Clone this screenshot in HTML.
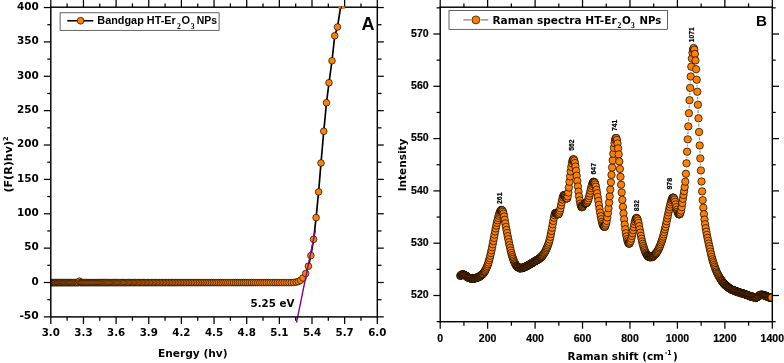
<!DOCTYPE html>
<html><head><meta charset="utf-8"><title>Bandgap and Raman spectra HT-Er2O3 NPs</title>
<style>html,body{margin:0;padding:0;background:#fff}svg{display:block}</style></head>
<body>
<svg width="784" height="363" viewBox="0 0 784 363">
<rect width="784" height="363" fill="#fff"/>
<defs>
<clipPath id="ca"><rect x="50.8" y="7.2" width="326.5" height="309.7"/></clipPath>
<clipPath id="cb"><rect x="440.2" y="7.2" width="332.09999999999997" height="314.5"/></clipPath>
</defs>
<g clip-path="url(#ca)">
<polyline fill="none" stroke="#000" stroke-width="1.7" points="51.06,282.60 51.86,282.60 52.65,282.60 53.45,282.60 54.26,282.60 55.07,282.60 55.88,282.60 56.70,282.60 57.52,282.60 58.34,282.60 59.17,282.60 60.00,282.60 60.84,282.60 61.68,282.60 62.53,282.60 63.38,282.60 64.23,282.60 65.09,282.60 65.95,282.60 66.82,282.60 67.69,282.60 68.57,282.60 69.45,282.60 70.33,282.60 71.22,282.60 72.12,282.60 73.02,282.60 73.92,282.60 74.83,282.60 75.74,282.60 76.66,282.60 77.58,282.60 78.51,282.60 79.44,281.20 80.38,282.60 81.32,282.60 82.27,282.60 83.22,282.60 84.18,282.60 85.14,282.60 86.11,282.60 87.08,282.60 88.06,282.60 89.04,282.60 90.03,282.60 91.02,282.60 92.02,282.60 93.02,282.60 94.04,282.60 95.05,282.60 96.07,282.60 97.10,282.60 98.13,282.60 99.17,282.60 100.21,282.60 101.26,282.60 102.32,282.60 103.38,282.60 104.45,282.60 105.52,282.60 106.60,282.60 107.69,282.60 108.78,282.60 109.88,282.60 110.99,282.60 112.10,282.60 113.21,282.60 114.34,282.60 115.47,282.60 116.61,282.60 117.75,282.60 118.90,282.60 120.06,282.60 121.22,282.60 122.39,282.60 123.57,282.60 124.75,282.60 125.95,282.60 127.15,282.60 128.35,282.60 129.57,282.60 130.79,282.60 132.01,282.60 133.25,282.60 134.49,282.60 135.74,282.60 137.00,282.60 138.27,282.60 139.54,282.60 140.82,282.60 142.11,282.60 143.41,282.60 144.72,282.60 146.03,282.60 147.35,282.60 148.68,282.60 150.02,282.60 151.37,282.60 152.72,282.60 154.09,282.60 155.46,282.60 156.84,282.60 158.23,282.60 159.63,282.60 161.04,282.60 162.46,282.60 163.89,282.60 165.32,282.60 166.77,282.60 168.23,282.60 169.69,282.60 171.17,282.60 172.65,282.60 174.14,282.60 175.65,282.60 177.16,282.60 178.69,282.60 180.22,282.60 181.77,282.60 183.32,282.60 184.89,282.60 186.47,282.60 188.06,282.60 189.66,282.60 191.27,282.60 192.89,282.60 194.52,282.60 196.16,282.60 197.82,282.60 199.49,282.60 201.17,282.60 202.86,282.60 204.56,282.60 206.28,282.60 208.00,282.60 209.74,282.60 211.50,282.60 213.26,282.60 215.04,282.60 216.83,282.60 218.63,282.60 220.45,282.60 222.28,282.60 224.13,282.60 225.99,282.60 227.86,282.60 229.74,282.60 231.64,282.60 233.56,282.60 235.49,282.60 237.43,282.60 239.39,282.60 241.36,282.60 243.35,282.60 245.36,282.60 247.37,282.60 249.41,282.60 251.46,282.60 253.53,282.60 255.61,282.60 257.71,282.60 259.83,282.60 261.96,282.60 264.11,282.60 266.28,282.60 268.47,282.60 270.67,282.60 272.89,282.60 275.13,282.60 277.39,282.60 279.66,282.60 281.96,282.60 284.27,282.60 286.61,282.60 288.96,282.60 291.33,282.60 293.72,282.40 296.14,282.10 298.30,281.50 300.50,280.30 303.00,278.00 305.70,273.50 308.40,266.20 310.90,255.60 313.60,239.30 316.10,217.60 318.60,191.90 321.00,163.00 323.75,131.25 326.50,102.75 329.00,82.75 332.00,60.75 334.75,35.75 337.50,27.00 340.90,5.20"/>
<g fill="#FF8000" stroke="#000" stroke-width="0.65">
<circle cx="51.06" cy="282.60" r="3.35"/>
<circle cx="51.86" cy="282.60" r="3.35"/>
<circle cx="52.65" cy="282.60" r="3.35"/>
<circle cx="53.45" cy="282.60" r="3.35"/>
<circle cx="54.26" cy="282.60" r="3.35"/>
<circle cx="55.07" cy="282.60" r="3.35"/>
<circle cx="55.88" cy="282.60" r="3.35"/>
<circle cx="56.70" cy="282.60" r="3.35"/>
<circle cx="57.52" cy="282.60" r="3.35"/>
<circle cx="58.34" cy="282.60" r="3.35"/>
<circle cx="59.17" cy="282.60" r="3.35"/>
<circle cx="60.00" cy="282.60" r="3.35"/>
<circle cx="60.84" cy="282.60" r="3.35"/>
<circle cx="61.68" cy="282.60" r="3.35"/>
<circle cx="62.53" cy="282.60" r="3.35"/>
<circle cx="63.38" cy="282.60" r="3.35"/>
<circle cx="64.23" cy="282.60" r="3.35"/>
<circle cx="65.09" cy="282.60" r="3.35"/>
<circle cx="65.95" cy="282.60" r="3.35"/>
<circle cx="66.82" cy="282.60" r="3.35"/>
<circle cx="67.69" cy="282.60" r="3.35"/>
<circle cx="68.57" cy="282.60" r="3.35"/>
<circle cx="69.45" cy="282.60" r="3.35"/>
<circle cx="70.33" cy="282.60" r="3.35"/>
<circle cx="71.22" cy="282.60" r="3.35"/>
<circle cx="72.12" cy="282.60" r="3.35"/>
<circle cx="73.02" cy="282.60" r="3.35"/>
<circle cx="73.92" cy="282.60" r="3.35"/>
<circle cx="74.83" cy="282.60" r="3.35"/>
<circle cx="75.74" cy="282.60" r="3.35"/>
<circle cx="76.66" cy="282.60" r="3.35"/>
<circle cx="77.58" cy="282.60" r="3.35"/>
<circle cx="78.51" cy="282.60" r="3.35"/>
<circle cx="79.44" cy="281.20" r="3.35"/>
<circle cx="80.38" cy="282.60" r="3.35"/>
<circle cx="81.32" cy="282.60" r="3.35"/>
<circle cx="82.27" cy="282.60" r="3.35"/>
<circle cx="83.22" cy="282.60" r="3.35"/>
<circle cx="84.18" cy="282.60" r="3.35"/>
<circle cx="85.14" cy="282.60" r="3.35"/>
<circle cx="86.11" cy="282.60" r="3.35"/>
<circle cx="87.08" cy="282.60" r="3.35"/>
<circle cx="88.06" cy="282.60" r="3.35"/>
<circle cx="89.04" cy="282.60" r="3.35"/>
<circle cx="90.03" cy="282.60" r="3.35"/>
<circle cx="91.02" cy="282.60" r="3.35"/>
<circle cx="92.02" cy="282.60" r="3.35"/>
<circle cx="93.02" cy="282.60" r="3.35"/>
<circle cx="94.04" cy="282.60" r="3.35"/>
<circle cx="95.05" cy="282.60" r="3.35"/>
<circle cx="96.07" cy="282.60" r="3.35"/>
<circle cx="97.10" cy="282.60" r="3.35"/>
<circle cx="98.13" cy="282.60" r="3.35"/>
<circle cx="99.17" cy="282.60" r="3.35"/>
<circle cx="100.21" cy="282.60" r="3.35"/>
<circle cx="101.26" cy="282.60" r="3.35"/>
<circle cx="102.32" cy="282.60" r="3.35"/>
<circle cx="103.38" cy="282.60" r="3.35"/>
<circle cx="104.45" cy="282.60" r="3.35"/>
<circle cx="105.52" cy="282.60" r="3.35"/>
<circle cx="106.60" cy="282.60" r="3.35"/>
<circle cx="107.69" cy="282.60" r="3.35"/>
<circle cx="108.78" cy="282.60" r="3.35"/>
<circle cx="109.88" cy="282.60" r="3.35"/>
<circle cx="110.99" cy="282.60" r="3.35"/>
<circle cx="112.10" cy="282.60" r="3.35"/>
<circle cx="113.21" cy="282.60" r="3.35"/>
<circle cx="114.34" cy="282.60" r="3.35"/>
<circle cx="115.47" cy="282.60" r="3.35"/>
<circle cx="116.61" cy="282.60" r="3.35"/>
<circle cx="117.75" cy="282.60" r="3.35"/>
<circle cx="118.90" cy="282.60" r="3.35"/>
<circle cx="120.06" cy="282.60" r="3.35"/>
<circle cx="121.22" cy="282.60" r="3.35"/>
<circle cx="122.39" cy="282.60" r="3.35"/>
<circle cx="123.57" cy="282.60" r="3.35"/>
<circle cx="124.75" cy="282.60" r="3.35"/>
<circle cx="125.95" cy="282.60" r="3.35"/>
<circle cx="127.15" cy="282.60" r="3.35"/>
<circle cx="128.35" cy="282.60" r="3.35"/>
<circle cx="129.57" cy="282.60" r="3.35"/>
<circle cx="130.79" cy="282.60" r="3.35"/>
<circle cx="132.01" cy="282.60" r="3.35"/>
<circle cx="133.25" cy="282.60" r="3.35"/>
<circle cx="134.49" cy="282.60" r="3.35"/>
<circle cx="135.74" cy="282.60" r="3.35"/>
<circle cx="137.00" cy="282.60" r="3.35"/>
<circle cx="138.27" cy="282.60" r="3.35"/>
<circle cx="139.54" cy="282.60" r="3.35"/>
<circle cx="140.82" cy="282.60" r="3.35"/>
<circle cx="142.11" cy="282.60" r="3.35"/>
<circle cx="143.41" cy="282.60" r="3.35"/>
<circle cx="144.72" cy="282.60" r="3.35"/>
<circle cx="146.03" cy="282.60" r="3.35"/>
<circle cx="147.35" cy="282.60" r="3.35"/>
<circle cx="148.68" cy="282.60" r="3.35"/>
<circle cx="150.02" cy="282.60" r="3.35"/>
<circle cx="151.37" cy="282.60" r="3.35"/>
<circle cx="152.72" cy="282.60" r="3.35"/>
<circle cx="154.09" cy="282.60" r="3.35"/>
<circle cx="155.46" cy="282.60" r="3.35"/>
<circle cx="156.84" cy="282.60" r="3.35"/>
<circle cx="158.23" cy="282.60" r="3.35"/>
<circle cx="159.63" cy="282.60" r="3.35"/>
<circle cx="161.04" cy="282.60" r="3.35"/>
<circle cx="162.46" cy="282.60" r="3.35"/>
<circle cx="163.89" cy="282.60" r="3.35"/>
<circle cx="165.32" cy="282.60" r="3.35"/>
<circle cx="166.77" cy="282.60" r="3.35"/>
<circle cx="168.23" cy="282.60" r="3.35"/>
<circle cx="169.69" cy="282.60" r="3.35"/>
<circle cx="171.17" cy="282.60" r="3.35"/>
<circle cx="172.65" cy="282.60" r="3.35"/>
<circle cx="174.14" cy="282.60" r="3.35"/>
<circle cx="175.65" cy="282.60" r="3.35"/>
<circle cx="177.16" cy="282.60" r="3.35"/>
<circle cx="178.69" cy="282.60" r="3.35"/>
<circle cx="180.22" cy="282.60" r="3.35"/>
<circle cx="181.77" cy="282.60" r="3.35"/>
<circle cx="183.32" cy="282.60" r="3.35"/>
<circle cx="184.89" cy="282.60" r="3.35"/>
<circle cx="186.47" cy="282.60" r="3.35"/>
<circle cx="188.06" cy="282.60" r="3.35"/>
<circle cx="189.66" cy="282.60" r="3.35"/>
<circle cx="191.27" cy="282.60" r="3.35"/>
<circle cx="192.89" cy="282.60" r="3.35"/>
<circle cx="194.52" cy="282.60" r="3.35"/>
<circle cx="196.16" cy="282.60" r="3.35"/>
<circle cx="197.82" cy="282.60" r="3.35"/>
<circle cx="199.49" cy="282.60" r="3.35"/>
<circle cx="201.17" cy="282.60" r="3.35"/>
<circle cx="202.86" cy="282.60" r="3.35"/>
<circle cx="204.56" cy="282.60" r="3.35"/>
<circle cx="206.28" cy="282.60" r="3.35"/>
<circle cx="208.00" cy="282.60" r="3.35"/>
<circle cx="209.74" cy="282.60" r="3.35"/>
<circle cx="211.50" cy="282.60" r="3.35"/>
<circle cx="213.26" cy="282.60" r="3.35"/>
<circle cx="215.04" cy="282.60" r="3.35"/>
<circle cx="216.83" cy="282.60" r="3.35"/>
<circle cx="218.63" cy="282.60" r="3.35"/>
<circle cx="220.45" cy="282.60" r="3.35"/>
<circle cx="222.28" cy="282.60" r="3.35"/>
<circle cx="224.13" cy="282.60" r="3.35"/>
<circle cx="225.99" cy="282.60" r="3.35"/>
<circle cx="227.86" cy="282.60" r="3.35"/>
<circle cx="229.74" cy="282.60" r="3.35"/>
<circle cx="231.64" cy="282.60" r="3.35"/>
<circle cx="233.56" cy="282.60" r="3.35"/>
<circle cx="235.49" cy="282.60" r="3.35"/>
<circle cx="237.43" cy="282.60" r="3.35"/>
<circle cx="239.39" cy="282.60" r="3.35"/>
<circle cx="241.36" cy="282.60" r="3.35"/>
<circle cx="243.35" cy="282.60" r="3.35"/>
<circle cx="245.36" cy="282.60" r="3.35"/>
<circle cx="247.37" cy="282.60" r="3.35"/>
<circle cx="249.41" cy="282.60" r="3.35"/>
<circle cx="251.46" cy="282.60" r="3.35"/>
<circle cx="253.53" cy="282.60" r="3.35"/>
<circle cx="255.61" cy="282.60" r="3.35"/>
<circle cx="257.71" cy="282.60" r="3.35"/>
<circle cx="259.83" cy="282.60" r="3.35"/>
<circle cx="261.96" cy="282.60" r="3.35"/>
<circle cx="264.11" cy="282.60" r="3.35"/>
<circle cx="266.28" cy="282.60" r="3.35"/>
<circle cx="268.47" cy="282.60" r="3.35"/>
<circle cx="270.67" cy="282.60" r="3.35"/>
<circle cx="272.89" cy="282.60" r="3.35"/>
<circle cx="275.13" cy="282.60" r="3.35"/>
<circle cx="277.39" cy="282.60" r="3.35"/>
<circle cx="279.66" cy="282.60" r="3.35"/>
<circle cx="281.96" cy="282.60" r="3.35"/>
<circle cx="284.27" cy="282.60" r="3.35"/>
<circle cx="286.61" cy="282.60" r="3.35"/>
<circle cx="288.96" cy="282.60" r="3.35"/>
<circle cx="291.33" cy="282.60" r="3.35"/>
<circle cx="293.72" cy="282.40" r="3.35"/>
<circle cx="296.14" cy="282.10" r="3.35"/>
<circle cx="298.30" cy="281.50" r="3.35"/>
<circle cx="300.50" cy="280.30" r="3.35"/>
<circle cx="303.00" cy="278.00" r="3.35"/>
<circle cx="305.70" cy="273.50" r="3.35"/>
<circle cx="308.40" cy="266.20" r="3.35"/>
<circle cx="310.90" cy="255.60" r="3.35"/>
<circle cx="313.60" cy="239.30" r="3.35"/>
<circle cx="316.10" cy="217.60" r="3.35"/>
<circle cx="318.60" cy="191.90" r="3.35"/>
<circle cx="321.00" cy="163.00" r="3.35"/>
<circle cx="323.75" cy="131.25" r="3.35"/>
<circle cx="326.50" cy="102.75" r="3.35"/>
<circle cx="329.00" cy="82.75" r="3.35"/>
<circle cx="332.00" cy="60.75" r="3.35"/>
<circle cx="334.75" cy="35.75" r="3.35"/>
<circle cx="337.50" cy="27.00" r="3.35"/>
<circle cx="340.90" cy="5.20" r="3.35"/>
</g>
</g>
<line x1="315.50" y1="229.60" x2="296.50" y2="322.60" stroke="#8B008B" stroke-width="1.4" />
<text x="250.50" y="306.70" font-size="10.4" style="font-family:'DejaVu Sans','Liberation Sans',sans-serif;font-weight:bold" text-anchor="start" textLength="43.90" lengthAdjust="spacingAndGlyphs" >5.25 eV</text>
<rect x="50.8" y="7.2" width="326.5" height="309.7" fill="none" stroke="#000" stroke-width="1.45"/>
<line x1="50.80" y1="316.90" x2="50.80" y2="324.00" stroke="#000" stroke-width="1.25" />
<line x1="50.80" y1="7.20" x2="50.80" y2="-0.30" stroke="#000" stroke-width="1.25" />
<text x="50.80" y="336.40" font-size="10.3" style="font-family:'DejaVu Sans','Liberation Sans',sans-serif;font-weight:bold" text-anchor="middle" textLength="18.20" lengthAdjust="spacingAndGlyphs" >3.0</text>
<line x1="67.12" y1="316.90" x2="67.12" y2="320.70" stroke="#000" stroke-width="1.25" />
<line x1="67.12" y1="7.20" x2="67.12" y2="3.40" stroke="#000" stroke-width="1.25" />
<line x1="83.45" y1="316.90" x2="83.45" y2="324.00" stroke="#000" stroke-width="1.25" />
<line x1="83.45" y1="7.20" x2="83.45" y2="-0.30" stroke="#000" stroke-width="1.25" />
<text x="83.45" y="336.40" font-size="10.3" style="font-family:'DejaVu Sans','Liberation Sans',sans-serif;font-weight:bold" text-anchor="middle" textLength="18.20" lengthAdjust="spacingAndGlyphs" >3.3</text>
<line x1="99.78" y1="316.90" x2="99.78" y2="320.70" stroke="#000" stroke-width="1.25" />
<line x1="99.78" y1="7.20" x2="99.78" y2="3.40" stroke="#000" stroke-width="1.25" />
<line x1="116.10" y1="316.90" x2="116.10" y2="324.00" stroke="#000" stroke-width="1.25" />
<line x1="116.10" y1="7.20" x2="116.10" y2="-0.30" stroke="#000" stroke-width="1.25" />
<text x="116.10" y="336.40" font-size="10.3" style="font-family:'DejaVu Sans','Liberation Sans',sans-serif;font-weight:bold" text-anchor="middle" textLength="18.20" lengthAdjust="spacingAndGlyphs" >3.6</text>
<line x1="132.43" y1="316.90" x2="132.43" y2="320.70" stroke="#000" stroke-width="1.25" />
<line x1="132.43" y1="7.20" x2="132.43" y2="3.40" stroke="#000" stroke-width="1.25" />
<line x1="148.75" y1="316.90" x2="148.75" y2="324.00" stroke="#000" stroke-width="1.25" />
<line x1="148.75" y1="7.20" x2="148.75" y2="-0.30" stroke="#000" stroke-width="1.25" />
<text x="148.75" y="336.40" font-size="10.3" style="font-family:'DejaVu Sans','Liberation Sans',sans-serif;font-weight:bold" text-anchor="middle" textLength="18.20" lengthAdjust="spacingAndGlyphs" >3.9</text>
<line x1="165.07" y1="316.90" x2="165.07" y2="320.70" stroke="#000" stroke-width="1.25" />
<line x1="165.07" y1="7.20" x2="165.07" y2="3.40" stroke="#000" stroke-width="1.25" />
<line x1="181.40" y1="316.90" x2="181.40" y2="324.00" stroke="#000" stroke-width="1.25" />
<line x1="181.40" y1="7.20" x2="181.40" y2="-0.30" stroke="#000" stroke-width="1.25" />
<text x="181.40" y="336.40" font-size="10.3" style="font-family:'DejaVu Sans','Liberation Sans',sans-serif;font-weight:bold" text-anchor="middle" textLength="18.20" lengthAdjust="spacingAndGlyphs" >4.2</text>
<line x1="197.72" y1="316.90" x2="197.72" y2="320.70" stroke="#000" stroke-width="1.25" />
<line x1="197.72" y1="7.20" x2="197.72" y2="3.40" stroke="#000" stroke-width="1.25" />
<line x1="214.05" y1="316.90" x2="214.05" y2="324.00" stroke="#000" stroke-width="1.25" />
<line x1="214.05" y1="7.20" x2="214.05" y2="-0.30" stroke="#000" stroke-width="1.25" />
<text x="214.05" y="336.40" font-size="10.3" style="font-family:'DejaVu Sans','Liberation Sans',sans-serif;font-weight:bold" text-anchor="middle" textLength="18.20" lengthAdjust="spacingAndGlyphs" >4.5</text>
<line x1="230.38" y1="316.90" x2="230.38" y2="320.70" stroke="#000" stroke-width="1.25" />
<line x1="230.38" y1="7.20" x2="230.38" y2="3.40" stroke="#000" stroke-width="1.25" />
<line x1="246.70" y1="316.90" x2="246.70" y2="324.00" stroke="#000" stroke-width="1.25" />
<line x1="246.70" y1="7.20" x2="246.70" y2="-0.30" stroke="#000" stroke-width="1.25" />
<text x="246.70" y="336.40" font-size="10.3" style="font-family:'DejaVu Sans','Liberation Sans',sans-serif;font-weight:bold" text-anchor="middle" textLength="18.20" lengthAdjust="spacingAndGlyphs" >4.8</text>
<line x1="263.03" y1="316.90" x2="263.03" y2="320.70" stroke="#000" stroke-width="1.25" />
<line x1="263.03" y1="7.20" x2="263.03" y2="3.40" stroke="#000" stroke-width="1.25" />
<line x1="279.35" y1="316.90" x2="279.35" y2="324.00" stroke="#000" stroke-width="1.25" />
<line x1="279.35" y1="7.20" x2="279.35" y2="-0.30" stroke="#000" stroke-width="1.25" />
<text x="279.35" y="336.40" font-size="10.3" style="font-family:'DejaVu Sans','Liberation Sans',sans-serif;font-weight:bold" text-anchor="middle" textLength="18.20" lengthAdjust="spacingAndGlyphs" >5.1</text>
<line x1="295.68" y1="316.90" x2="295.68" y2="320.70" stroke="#000" stroke-width="1.25" />
<line x1="295.68" y1="7.20" x2="295.68" y2="3.40" stroke="#000" stroke-width="1.25" />
<line x1="312.00" y1="316.90" x2="312.00" y2="324.00" stroke="#000" stroke-width="1.25" />
<line x1="312.00" y1="7.20" x2="312.00" y2="-0.30" stroke="#000" stroke-width="1.25" />
<text x="312.00" y="336.40" font-size="10.3" style="font-family:'DejaVu Sans','Liberation Sans',sans-serif;font-weight:bold" text-anchor="middle" textLength="18.20" lengthAdjust="spacingAndGlyphs" >5.4</text>
<line x1="328.32" y1="316.90" x2="328.32" y2="320.70" stroke="#000" stroke-width="1.25" />
<line x1="328.32" y1="7.20" x2="328.32" y2="3.40" stroke="#000" stroke-width="1.25" />
<line x1="344.65" y1="316.90" x2="344.65" y2="324.00" stroke="#000" stroke-width="1.25" />
<line x1="344.65" y1="7.20" x2="344.65" y2="-0.30" stroke="#000" stroke-width="1.25" />
<text x="344.65" y="336.40" font-size="10.3" style="font-family:'DejaVu Sans','Liberation Sans',sans-serif;font-weight:bold" text-anchor="middle" textLength="18.20" lengthAdjust="spacingAndGlyphs" >5.7</text>
<line x1="360.97" y1="316.90" x2="360.97" y2="320.70" stroke="#000" stroke-width="1.25" />
<line x1="360.97" y1="7.20" x2="360.97" y2="3.40" stroke="#000" stroke-width="1.25" />
<line x1="377.30" y1="316.90" x2="377.30" y2="324.00" stroke="#000" stroke-width="1.25" />
<line x1="377.30" y1="7.20" x2="377.30" y2="-0.30" stroke="#000" stroke-width="1.25" />
<text x="377.30" y="336.40" font-size="10.3" style="font-family:'DejaVu Sans','Liberation Sans',sans-serif;font-weight:bold" text-anchor="middle" textLength="18.20" lengthAdjust="spacingAndGlyphs" >6.0</text>
<line x1="50.80" y1="316.87" x2="43.80" y2="316.87" stroke="#000" stroke-width="1.25" />
<line x1="377.30" y1="316.87" x2="383.80" y2="316.87" stroke="#000" stroke-width="1.25" />
<text x="38.80" y="319.17" font-size="10.3" style="font-family:'DejaVu Sans','Liberation Sans',sans-serif;font-weight:bold" text-anchor="end" textLength="19.40" lengthAdjust="spacingAndGlyphs" >-50</text>
<line x1="50.80" y1="299.69" x2="47.30" y2="299.69" stroke="#000" stroke-width="1.25" />
<line x1="377.30" y1="299.69" x2="381.50" y2="299.69" stroke="#000" stroke-width="1.25" />
<line x1="50.80" y1="282.50" x2="43.80" y2="282.50" stroke="#000" stroke-width="1.25" />
<line x1="377.30" y1="282.50" x2="383.80" y2="282.50" stroke="#000" stroke-width="1.25" />
<text x="38.80" y="284.80" font-size="10.3" style="font-family:'DejaVu Sans','Liberation Sans',sans-serif;font-weight:bold" text-anchor="end" textLength="7.20" lengthAdjust="spacingAndGlyphs" >0</text>
<line x1="50.80" y1="265.31" x2="47.30" y2="265.31" stroke="#000" stroke-width="1.25" />
<line x1="377.30" y1="265.31" x2="381.50" y2="265.31" stroke="#000" stroke-width="1.25" />
<line x1="50.80" y1="248.13" x2="43.80" y2="248.13" stroke="#000" stroke-width="1.25" />
<line x1="377.30" y1="248.13" x2="383.80" y2="248.13" stroke="#000" stroke-width="1.25" />
<text x="38.80" y="250.43" font-size="10.3" style="font-family:'DejaVu Sans','Liberation Sans',sans-serif;font-weight:bold" text-anchor="end" textLength="14.50" lengthAdjust="spacingAndGlyphs" >50</text>
<line x1="50.80" y1="230.94" x2="47.30" y2="230.94" stroke="#000" stroke-width="1.25" />
<line x1="377.30" y1="230.94" x2="381.50" y2="230.94" stroke="#000" stroke-width="1.25" />
<line x1="50.80" y1="213.76" x2="43.80" y2="213.76" stroke="#000" stroke-width="1.25" />
<line x1="377.30" y1="213.76" x2="383.80" y2="213.76" stroke="#000" stroke-width="1.25" />
<text x="38.80" y="216.06" font-size="10.3" style="font-family:'DejaVu Sans','Liberation Sans',sans-serif;font-weight:bold" text-anchor="end" textLength="21.80" lengthAdjust="spacingAndGlyphs" >100</text>
<line x1="50.80" y1="196.57" x2="47.30" y2="196.57" stroke="#000" stroke-width="1.25" />
<line x1="377.30" y1="196.57" x2="381.50" y2="196.57" stroke="#000" stroke-width="1.25" />
<line x1="50.80" y1="179.39" x2="43.80" y2="179.39" stroke="#000" stroke-width="1.25" />
<line x1="377.30" y1="179.39" x2="383.80" y2="179.39" stroke="#000" stroke-width="1.25" />
<text x="38.80" y="181.69" font-size="10.3" style="font-family:'DejaVu Sans','Liberation Sans',sans-serif;font-weight:bold" text-anchor="end" textLength="21.80" lengthAdjust="spacingAndGlyphs" >150</text>
<line x1="50.80" y1="162.21" x2="47.30" y2="162.21" stroke="#000" stroke-width="1.25" />
<line x1="377.30" y1="162.21" x2="381.50" y2="162.21" stroke="#000" stroke-width="1.25" />
<line x1="50.80" y1="145.02" x2="43.80" y2="145.02" stroke="#000" stroke-width="1.25" />
<line x1="377.30" y1="145.02" x2="383.80" y2="145.02" stroke="#000" stroke-width="1.25" />
<text x="38.80" y="147.32" font-size="10.3" style="font-family:'DejaVu Sans','Liberation Sans',sans-serif;font-weight:bold" text-anchor="end" textLength="21.80" lengthAdjust="spacingAndGlyphs" >200</text>
<line x1="50.80" y1="127.84" x2="47.30" y2="127.84" stroke="#000" stroke-width="1.25" />
<line x1="377.30" y1="127.84" x2="381.50" y2="127.84" stroke="#000" stroke-width="1.25" />
<line x1="50.80" y1="110.65" x2="43.80" y2="110.65" stroke="#000" stroke-width="1.25" />
<line x1="377.30" y1="110.65" x2="383.80" y2="110.65" stroke="#000" stroke-width="1.25" />
<text x="38.80" y="112.95" font-size="10.3" style="font-family:'DejaVu Sans','Liberation Sans',sans-serif;font-weight:bold" text-anchor="end" textLength="21.80" lengthAdjust="spacingAndGlyphs" >250</text>
<line x1="50.80" y1="93.47" x2="47.30" y2="93.47" stroke="#000" stroke-width="1.25" />
<line x1="377.30" y1="93.47" x2="381.50" y2="93.47" stroke="#000" stroke-width="1.25" />
<line x1="50.80" y1="76.28" x2="43.80" y2="76.28" stroke="#000" stroke-width="1.25" />
<line x1="377.30" y1="76.28" x2="383.80" y2="76.28" stroke="#000" stroke-width="1.25" />
<text x="38.80" y="78.58" font-size="10.3" style="font-family:'DejaVu Sans','Liberation Sans',sans-serif;font-weight:bold" text-anchor="end" textLength="21.80" lengthAdjust="spacingAndGlyphs" >300</text>
<line x1="50.80" y1="59.10" x2="47.30" y2="59.10" stroke="#000" stroke-width="1.25" />
<line x1="377.30" y1="59.10" x2="381.50" y2="59.10" stroke="#000" stroke-width="1.25" />
<line x1="50.80" y1="41.91" x2="43.80" y2="41.91" stroke="#000" stroke-width="1.25" />
<line x1="377.30" y1="41.91" x2="383.80" y2="41.91" stroke="#000" stroke-width="1.25" />
<text x="38.80" y="44.21" font-size="10.3" style="font-family:'DejaVu Sans','Liberation Sans',sans-serif;font-weight:bold" text-anchor="end" textLength="21.80" lengthAdjust="spacingAndGlyphs" >350</text>
<line x1="50.80" y1="24.73" x2="47.30" y2="24.73" stroke="#000" stroke-width="1.25" />
<line x1="377.30" y1="24.73" x2="381.50" y2="24.73" stroke="#000" stroke-width="1.25" />
<line x1="50.80" y1="7.54" x2="43.80" y2="7.54" stroke="#000" stroke-width="1.25" />
<line x1="377.30" y1="7.54" x2="383.80" y2="7.54" stroke="#000" stroke-width="1.25" />
<text x="38.80" y="9.84" font-size="10.3" style="font-family:'DejaVu Sans','Liberation Sans',sans-serif;font-weight:bold" text-anchor="end" textLength="21.80" lengthAdjust="spacingAndGlyphs" >400</text>
<clipPath id="cs"><rect x="330" y="6.5" width="20" height="2.2"/></clipPath>
<g clip-path="url(#cs)"><circle cx="341.7" cy="6.0" r="3.6" fill="#FF8000" stroke="#7a3d00" stroke-width="0.5"/><line x1="340.9" y1="9.5" x2="341.6" y2="5.5" stroke="#000" stroke-width="1.0"/></g>
<text x="192.80" y="357.00" font-size="10.4" style="font-family:'DejaVu Sans','Liberation Sans',sans-serif;font-weight:bold" text-anchor="middle" textLength="69.60" lengthAdjust="spacingAndGlyphs" >Energy (hv)</text>
<text transform="translate(11.7,192.6) rotate(-90)" font-size="10.4" style="font-family:'DejaVu Sans','Liberation Sans',sans-serif;font-weight:bold" text-anchor="start"><tspan textLength="51.6" lengthAdjust="spacingAndGlyphs">(F(R)hv)</tspan><tspan font-size="6.5" dy="-4.2">2</tspan></text>
<rect x="60.1" y="12.8" width="159.0" height="17.5" fill="#fff" stroke="#222" stroke-width="0.7"/>
<line x1="67.30" y1="20.75" x2="93.30" y2="20.75" stroke="#000" stroke-width="1.6" />
<circle cx="80.6" cy="20.75" r="3.4" fill="#FF8000" stroke="#000" stroke-width="0.65"/>
<text y="24.2" font-size="11" style="font-family:'Liberation Sans',sans-serif;font-weight:bold"><tspan x="97.3" textLength="78.5" lengthAdjust="spacingAndGlyphs">Bandgap HT-Er</tspan><tspan x="177.0" y="28.8" style="font-family:'Liberation Serif',serif;font-weight:bold" font-size="7.6">2</tspan><tspan x="181.4" y="24.2">O</tspan><tspan x="190.8" y="28.8" style="font-family:'Liberation Serif',serif;font-weight:bold" font-size="7.6">3</tspan><tspan x="196.7" y="24.2" textLength="20.3" lengthAdjust="spacingAndGlyphs">NPs</tspan></text>
<text x="368.10" y="29.80" font-size="18" style="font-family:'Liberation Sans',sans-serif;font-weight:bold" text-anchor="middle" >A</text>
<g clip-path="url(#cb)">
<path fill="none" stroke="#333" stroke-width="0.6" d="M686.77,158.07L686.83,156.97M687.35,146.48L687.45,144.58M687.94,134.09L688.06,131.63M688.54,121.14L688.66,118.47M689.14,107.98L689.26,105.44M689.75,94.95L689.85,93.10M690.38,82.62L690.42,81.77M696.96,84.97L697.04,86.47M697.54,96.95L697.66,99.48M698.13,109.97L698.27,113.07M698.73,123.56L698.87,126.77M699.33,137.26L699.47,140.22M699.94,150.71L700.06,153.12M700.56,163.61L700.64,165.19M701.18,175.68L701.22,176.25"/>
<g fill="#FF8000" stroke="#000" stroke-width="0.7">
<circle cx="460.30" cy="275.89" r="3.7"/>
<circle cx="460.60" cy="275.61" r="3.7"/>
<circle cx="460.90" cy="275.27" r="3.7"/>
<circle cx="461.20" cy="275.08" r="3.7"/>
<circle cx="461.50" cy="274.88" r="3.7"/>
<circle cx="461.80" cy="274.50" r="3.7"/>
<circle cx="462.10" cy="274.32" r="3.7"/>
<circle cx="462.40" cy="274.53" r="3.7"/>
<circle cx="462.70" cy="274.49" r="3.7"/>
<circle cx="463.00" cy="274.30" r="3.7"/>
<circle cx="463.30" cy="274.52" r="3.7"/>
<circle cx="463.60" cy="274.47" r="3.7"/>
<circle cx="463.90" cy="274.72" r="3.7"/>
<circle cx="464.20" cy="274.83" r="3.7"/>
<circle cx="464.50" cy="274.90" r="3.7"/>
<circle cx="464.80" cy="275.38" r="3.7"/>
<circle cx="465.10" cy="275.33" r="3.7"/>
<circle cx="465.40" cy="275.55" r="3.7"/>
<circle cx="465.70" cy="275.67" r="3.7"/>
<circle cx="466.00" cy="275.71" r="3.7"/>
<circle cx="466.30" cy="275.99" r="3.7"/>
<circle cx="466.60" cy="276.42" r="3.7"/>
<circle cx="466.90" cy="276.70" r="3.7"/>
<circle cx="467.20" cy="277.00" r="3.7"/>
<circle cx="467.50" cy="277.12" r="3.7"/>
<circle cx="467.80" cy="277.49" r="3.7"/>
<circle cx="468.10" cy="277.62" r="3.7"/>
<circle cx="468.40" cy="277.63" r="3.7"/>
<circle cx="468.70" cy="277.73" r="3.7"/>
<circle cx="469.00" cy="277.74" r="3.7"/>
<circle cx="469.30" cy="277.94" r="3.7"/>
<circle cx="469.60" cy="278.05" r="3.7"/>
<circle cx="469.90" cy="278.13" r="3.7"/>
<circle cx="470.20" cy="278.17" r="3.7"/>
<circle cx="470.50" cy="278.10" r="3.7"/>
<circle cx="470.80" cy="278.58" r="3.7"/>
<circle cx="471.10" cy="278.68" r="3.7"/>
<circle cx="471.40" cy="278.75" r="3.7"/>
<circle cx="471.70" cy="278.32" r="3.7"/>
<circle cx="472.00" cy="278.22" r="3.7"/>
<circle cx="472.30" cy="278.30" r="3.7"/>
<circle cx="472.60" cy="278.33" r="3.7"/>
<circle cx="472.90" cy="278.49" r="3.7"/>
<circle cx="473.20" cy="278.62" r="3.7"/>
<circle cx="473.50" cy="278.77" r="3.7"/>
<circle cx="473.80" cy="278.58" r="3.7"/>
<circle cx="474.10" cy="278.44" r="3.7"/>
<circle cx="474.40" cy="278.33" r="3.7"/>
<circle cx="474.70" cy="278.10" r="3.7"/>
<circle cx="475.00" cy="278.13" r="3.7"/>
<circle cx="475.30" cy="278.04" r="3.7"/>
<circle cx="475.60" cy="278.11" r="3.7"/>
<circle cx="475.90" cy="278.13" r="3.7"/>
<circle cx="476.20" cy="278.14" r="3.7"/>
<circle cx="476.50" cy="277.83" r="3.7"/>
<circle cx="476.80" cy="277.66" r="3.7"/>
<circle cx="477.10" cy="277.54" r="3.7"/>
<circle cx="477.40" cy="277.35" r="3.7"/>
<circle cx="477.70" cy="277.42" r="3.7"/>
<circle cx="478.00" cy="277.18" r="3.7"/>
<circle cx="478.30" cy="277.33" r="3.7"/>
<circle cx="478.60" cy="277.15" r="3.7"/>
<circle cx="478.90" cy="277.23" r="3.7"/>
<circle cx="479.20" cy="276.71" r="3.7"/>
<circle cx="479.50" cy="276.45" r="3.7"/>
<circle cx="479.80" cy="276.09" r="3.7"/>
<circle cx="480.10" cy="276.18" r="3.7"/>
<circle cx="480.40" cy="276.04" r="3.7"/>
<circle cx="480.70" cy="275.75" r="3.7"/>
<circle cx="481.00" cy="275.45" r="3.7"/>
<circle cx="481.30" cy="275.10" r="3.7"/>
<circle cx="481.60" cy="274.88" r="3.7"/>
<circle cx="481.90" cy="274.77" r="3.7"/>
<circle cx="482.20" cy="274.37" r="3.7"/>
<circle cx="482.50" cy="274.18" r="3.7"/>
<circle cx="482.80" cy="273.78" r="3.7"/>
<circle cx="483.10" cy="273.75" r="3.7"/>
<circle cx="483.70" cy="272.89" r="3.7"/>
<circle cx="484.30" cy="271.93" r="3.7"/>
<circle cx="484.60" cy="271.45" r="3.7"/>
<circle cx="484.90" cy="271.19" r="3.7"/>
<circle cx="485.50" cy="270.05" r="3.7"/>
<circle cx="486.10" cy="268.77" r="3.7"/>
<circle cx="486.70" cy="267.52" r="3.7"/>
<circle cx="487.30" cy="266.01" r="3.7"/>
<circle cx="487.90" cy="264.31" r="3.7"/>
<circle cx="488.50" cy="262.46" r="3.7"/>
<circle cx="489.10" cy="260.26" r="3.7"/>
<circle cx="489.70" cy="258.08" r="3.7"/>
<circle cx="490.30" cy="255.67" r="3.7"/>
<circle cx="490.90" cy="253.03" r="3.7"/>
<circle cx="491.50" cy="250.24" r="3.7"/>
<circle cx="492.10" cy="247.30" r="3.7"/>
<circle cx="492.70" cy="244.26" r="3.7"/>
<circle cx="493.30" cy="241.03" r="3.7"/>
<circle cx="493.90" cy="237.92" r="3.7"/>
<circle cx="494.50" cy="234.63" r="3.7"/>
<circle cx="495.10" cy="231.49" r="3.7"/>
<circle cx="495.70" cy="228.37" r="3.7"/>
<circle cx="496.30" cy="225.57" r="3.7"/>
<circle cx="496.90" cy="222.84" r="3.7"/>
<circle cx="497.50" cy="220.21" r="3.7"/>
<circle cx="498.10" cy="217.91" r="3.7"/>
<circle cx="498.70" cy="215.63" r="3.7"/>
<circle cx="499.30" cy="213.76" r="3.7"/>
<circle cx="499.90" cy="212.15" r="3.7"/>
<circle cx="500.50" cy="210.82" r="3.7"/>
<circle cx="500.80" cy="210.73" r="3.7"/>
<circle cx="501.10" cy="210.20" r="3.7"/>
<circle cx="501.40" cy="209.99" r="3.7"/>
<circle cx="501.70" cy="210.31" r="3.7"/>
<circle cx="502.00" cy="210.39" r="3.7"/>
<circle cx="502.30" cy="210.44" r="3.7"/>
<circle cx="502.90" cy="211.81" r="3.7"/>
<circle cx="503.50" cy="213.68" r="3.7"/>
<circle cx="504.10" cy="216.50" r="3.7"/>
<circle cx="504.70" cy="219.81" r="3.7"/>
<circle cx="505.30" cy="223.43" r="3.7"/>
<circle cx="505.90" cy="226.87" r="3.7"/>
<circle cx="506.50" cy="229.96" r="3.7"/>
<circle cx="507.10" cy="233.02" r="3.7"/>
<circle cx="507.70" cy="236.22" r="3.7"/>
<circle cx="508.30" cy="239.19" r="3.7"/>
<circle cx="508.90" cy="242.25" r="3.7"/>
<circle cx="509.50" cy="245.16" r="3.7"/>
<circle cx="510.10" cy="247.86" r="3.7"/>
<circle cx="510.70" cy="250.50" r="3.7"/>
<circle cx="511.30" cy="252.97" r="3.7"/>
<circle cx="511.90" cy="255.15" r="3.7"/>
<circle cx="512.50" cy="257.14" r="3.7"/>
<circle cx="513.10" cy="258.86" r="3.7"/>
<circle cx="513.70" cy="260.60" r="3.7"/>
<circle cx="514.30" cy="262.06" r="3.7"/>
<circle cx="514.90" cy="263.32" r="3.7"/>
<circle cx="515.50" cy="264.36" r="3.7"/>
<circle cx="516.10" cy="265.38" r="3.7"/>
<circle cx="516.40" cy="265.80" r="3.7"/>
<circle cx="516.70" cy="266.04" r="3.7"/>
<circle cx="517.00" cy="266.38" r="3.7"/>
<circle cx="517.30" cy="266.70" r="3.7"/>
<circle cx="517.60" cy="266.95" r="3.7"/>
<circle cx="517.90" cy="267.28" r="3.7"/>
<circle cx="518.20" cy="267.44" r="3.7"/>
<circle cx="518.50" cy="267.43" r="3.7"/>
<circle cx="518.80" cy="267.46" r="3.7"/>
<circle cx="519.10" cy="267.76" r="3.7"/>
<circle cx="519.40" cy="268.13" r="3.7"/>
<circle cx="519.70" cy="268.37" r="3.7"/>
<circle cx="520.00" cy="268.48" r="3.7"/>
<circle cx="520.30" cy="268.24" r="3.7"/>
<circle cx="520.60" cy="267.89" r="3.7"/>
<circle cx="520.90" cy="267.80" r="3.7"/>
<circle cx="521.20" cy="267.81" r="3.7"/>
<circle cx="521.50" cy="268.01" r="3.7"/>
<circle cx="521.80" cy="268.04" r="3.7"/>
<circle cx="522.10" cy="268.03" r="3.7"/>
<circle cx="522.40" cy="268.13" r="3.7"/>
<circle cx="522.70" cy="267.99" r="3.7"/>
<circle cx="523.00" cy="267.97" r="3.7"/>
<circle cx="523.30" cy="267.62" r="3.7"/>
<circle cx="523.60" cy="267.54" r="3.7"/>
<circle cx="523.90" cy="267.29" r="3.7"/>
<circle cx="524.20" cy="267.08" r="3.7"/>
<circle cx="524.50" cy="267.02" r="3.7"/>
<circle cx="524.80" cy="266.86" r="3.7"/>
<circle cx="525.10" cy="266.96" r="3.7"/>
<circle cx="525.40" cy="266.82" r="3.7"/>
<circle cx="525.70" cy="266.62" r="3.7"/>
<circle cx="526.00" cy="266.46" r="3.7"/>
<circle cx="526.30" cy="266.20" r="3.7"/>
<circle cx="526.60" cy="265.93" r="3.7"/>
<circle cx="526.90" cy="265.93" r="3.7"/>
<circle cx="527.20" cy="265.75" r="3.7"/>
<circle cx="527.50" cy="265.57" r="3.7"/>
<circle cx="527.80" cy="265.52" r="3.7"/>
<circle cx="528.10" cy="265.39" r="3.7"/>
<circle cx="528.40" cy="265.24" r="3.7"/>
<circle cx="528.70" cy="264.85" r="3.7"/>
<circle cx="529.00" cy="264.64" r="3.7"/>
<circle cx="529.30" cy="264.66" r="3.7"/>
<circle cx="529.60" cy="264.58" r="3.7"/>
<circle cx="529.90" cy="264.36" r="3.7"/>
<circle cx="530.20" cy="264.02" r="3.7"/>
<circle cx="530.50" cy="263.96" r="3.7"/>
<circle cx="530.80" cy="263.64" r="3.7"/>
<circle cx="531.10" cy="263.42" r="3.7"/>
<circle cx="531.40" cy="263.38" r="3.7"/>
<circle cx="531.70" cy="263.37" r="3.7"/>
<circle cx="532.00" cy="263.23" r="3.7"/>
<circle cx="532.30" cy="262.73" r="3.7"/>
<circle cx="532.60" cy="263.03" r="3.7"/>
<circle cx="532.90" cy="262.53" r="3.7"/>
<circle cx="533.20" cy="262.30" r="3.7"/>
<circle cx="533.50" cy="262.01" r="3.7"/>
<circle cx="533.80" cy="261.82" r="3.7"/>
<circle cx="534.10" cy="261.52" r="3.7"/>
<circle cx="534.40" cy="261.60" r="3.7"/>
<circle cx="534.70" cy="261.44" r="3.7"/>
<circle cx="535.00" cy="261.10" r="3.7"/>
<circle cx="535.30" cy="261.09" r="3.7"/>
<circle cx="535.60" cy="260.97" r="3.7"/>
<circle cx="535.90" cy="260.68" r="3.7"/>
<circle cx="536.20" cy="260.37" r="3.7"/>
<circle cx="536.50" cy="260.36" r="3.7"/>
<circle cx="536.80" cy="260.31" r="3.7"/>
<circle cx="537.10" cy="259.87" r="3.7"/>
<circle cx="537.40" cy="259.85" r="3.7"/>
<circle cx="537.70" cy="259.48" r="3.7"/>
<circle cx="538.00" cy="259.38" r="3.7"/>
<circle cx="538.30" cy="259.16" r="3.7"/>
<circle cx="538.60" cy="259.00" r="3.7"/>
<circle cx="538.90" cy="259.03" r="3.7"/>
<circle cx="539.20" cy="258.94" r="3.7"/>
<circle cx="539.50" cy="258.46" r="3.7"/>
<circle cx="539.80" cy="258.18" r="3.7"/>
<circle cx="540.10" cy="257.83" r="3.7"/>
<circle cx="540.40" cy="257.67" r="3.7"/>
<circle cx="540.70" cy="257.48" r="3.7"/>
<circle cx="541.00" cy="257.22" r="3.7"/>
<circle cx="541.30" cy="256.83" r="3.7"/>
<circle cx="541.60" cy="256.33" r="3.7"/>
<circle cx="541.90" cy="256.25" r="3.7"/>
<circle cx="542.20" cy="256.05" r="3.7"/>
<circle cx="542.50" cy="255.75" r="3.7"/>
<circle cx="543.10" cy="254.89" r="3.7"/>
<circle cx="543.70" cy="253.97" r="3.7"/>
<circle cx="544.30" cy="253.12" r="3.7"/>
<circle cx="544.90" cy="252.14" r="3.7"/>
<circle cx="545.50" cy="250.95" r="3.7"/>
<circle cx="546.10" cy="249.78" r="3.7"/>
<circle cx="546.70" cy="248.33" r="3.7"/>
<circle cx="547.30" cy="247.02" r="3.7"/>
<circle cx="547.90" cy="245.47" r="3.7"/>
<circle cx="548.50" cy="243.74" r="3.7"/>
<circle cx="549.10" cy="241.85" r="3.7"/>
<circle cx="549.70" cy="239.58" r="3.7"/>
<circle cx="550.30" cy="236.88" r="3.7"/>
<circle cx="550.90" cy="234.07" r="3.7"/>
<circle cx="551.50" cy="230.90" r="3.7"/>
<circle cx="552.10" cy="227.68" r="3.7"/>
<circle cx="552.70" cy="224.28" r="3.7"/>
<circle cx="553.30" cy="220.91" r="3.7"/>
<circle cx="553.90" cy="217.71" r="3.7"/>
<circle cx="554.50" cy="215.11" r="3.7"/>
<circle cx="555.10" cy="213.36" r="3.7"/>
<circle cx="555.40" cy="213.24" r="3.7"/>
<circle cx="555.70" cy="212.89" r="3.7"/>
<circle cx="556.00" cy="212.92" r="3.7"/>
<circle cx="556.30" cy="212.86" r="3.7"/>
<circle cx="556.60" cy="213.26" r="3.7"/>
<circle cx="556.90" cy="213.62" r="3.7"/>
<circle cx="557.20" cy="213.78" r="3.7"/>
<circle cx="557.50" cy="214.16" r="3.7"/>
<circle cx="557.80" cy="214.23" r="3.7"/>
<circle cx="558.10" cy="214.14" r="3.7"/>
<circle cx="558.40" cy="214.15" r="3.7"/>
<circle cx="558.70" cy="214.12" r="3.7"/>
<circle cx="559.30" cy="212.66" r="3.7"/>
<circle cx="559.90" cy="210.67" r="3.7"/>
<circle cx="560.50" cy="208.27" r="3.7"/>
<circle cx="561.10" cy="205.25" r="3.7"/>
<circle cx="561.70" cy="202.25" r="3.7"/>
<circle cx="562.30" cy="199.44" r="3.7"/>
<circle cx="562.90" cy="197.07" r="3.7"/>
<circle cx="563.50" cy="195.59" r="3.7"/>
<circle cx="563.80" cy="195.28" r="3.7"/>
<circle cx="564.10" cy="194.97" r="3.7"/>
<circle cx="564.40" cy="195.08" r="3.7"/>
<circle cx="564.70" cy="195.32" r="3.7"/>
<circle cx="565.00" cy="195.81" r="3.7"/>
<circle cx="565.30" cy="196.09" r="3.7"/>
<circle cx="565.90" cy="197.36" r="3.7"/>
<circle cx="566.50" cy="198.39" r="3.7"/>
<circle cx="566.80" cy="198.49" r="3.7"/>
<circle cx="567.10" cy="198.30" r="3.7"/>
<circle cx="567.70" cy="196.31" r="3.7"/>
<circle cx="568.30" cy="192.58" r="3.7"/>
<circle cx="568.90" cy="187.46" r="3.7"/>
<circle cx="569.50" cy="181.79" r="3.7"/>
<circle cx="570.10" cy="176.42" r="3.7"/>
<circle cx="570.70" cy="171.39" r="3.7"/>
<circle cx="571.30" cy="166.94" r="3.7"/>
<circle cx="571.90" cy="163.27" r="3.7"/>
<circle cx="572.50" cy="160.75" r="3.7"/>
<circle cx="573.10" cy="159.47" r="3.7"/>
<circle cx="573.40" cy="159.44" r="3.7"/>
<circle cx="573.70" cy="159.32" r="3.7"/>
<circle cx="574.30" cy="160.61" r="3.7"/>
<circle cx="574.90" cy="163.01" r="3.7"/>
<circle cx="575.50" cy="166.51" r="3.7"/>
<circle cx="576.10" cy="170.81" r="3.7"/>
<circle cx="576.70" cy="175.74" r="3.7"/>
<circle cx="577.30" cy="181.00" r="3.7"/>
<circle cx="577.90" cy="186.45" r="3.7"/>
<circle cx="578.50" cy="191.64" r="3.7"/>
<circle cx="579.10" cy="196.36" r="3.7"/>
<circle cx="579.70" cy="200.41" r="3.7"/>
<circle cx="580.30" cy="203.60" r="3.7"/>
<circle cx="580.90" cy="205.79" r="3.7"/>
<circle cx="581.50" cy="206.89" r="3.7"/>
<circle cx="581.80" cy="207.10" r="3.7"/>
<circle cx="582.10" cy="207.10" r="3.7"/>
<circle cx="582.40" cy="206.95" r="3.7"/>
<circle cx="582.70" cy="206.47" r="3.7"/>
<circle cx="583.30" cy="205.48" r="3.7"/>
<circle cx="583.90" cy="204.44" r="3.7"/>
<circle cx="584.50" cy="203.60" r="3.7"/>
<circle cx="584.80" cy="203.67" r="3.7"/>
<circle cx="585.10" cy="203.35" r="3.7"/>
<circle cx="585.40" cy="203.27" r="3.7"/>
<circle cx="585.70" cy="203.13" r="3.7"/>
<circle cx="586.00" cy="203.03" r="3.7"/>
<circle cx="586.30" cy="202.99" r="3.7"/>
<circle cx="586.60" cy="202.86" r="3.7"/>
<circle cx="586.90" cy="202.83" r="3.7"/>
<circle cx="587.50" cy="201.66" r="3.7"/>
<circle cx="588.10" cy="200.32" r="3.7"/>
<circle cx="588.70" cy="198.23" r="3.7"/>
<circle cx="589.30" cy="195.92" r="3.7"/>
<circle cx="589.90" cy="193.39" r="3.7"/>
<circle cx="590.50" cy="190.68" r="3.7"/>
<circle cx="591.10" cy="188.11" r="3.7"/>
<circle cx="591.70" cy="185.74" r="3.7"/>
<circle cx="592.30" cy="183.80" r="3.7"/>
<circle cx="592.90" cy="182.46" r="3.7"/>
<circle cx="593.20" cy="182.08" r="3.7"/>
<circle cx="593.50" cy="181.70" r="3.7"/>
<circle cx="593.80" cy="181.96" r="3.7"/>
<circle cx="594.10" cy="182.08" r="3.7"/>
<circle cx="594.40" cy="182.53" r="3.7"/>
<circle cx="594.70" cy="182.76" r="3.7"/>
<circle cx="595.30" cy="184.52" r="3.7"/>
<circle cx="595.90" cy="186.69" r="3.7"/>
<circle cx="596.50" cy="189.76" r="3.7"/>
<circle cx="597.10" cy="193.20" r="3.7"/>
<circle cx="597.70" cy="196.92" r="3.7"/>
<circle cx="598.30" cy="200.90" r="3.7"/>
<circle cx="598.90" cy="204.91" r="3.7"/>
<circle cx="599.50" cy="208.85" r="3.7"/>
<circle cx="600.10" cy="212.63" r="3.7"/>
<circle cx="600.70" cy="216.19" r="3.7"/>
<circle cx="601.30" cy="219.20" r="3.7"/>
<circle cx="601.90" cy="221.86" r="3.7"/>
<circle cx="602.50" cy="223.98" r="3.7"/>
<circle cx="603.10" cy="225.60" r="3.7"/>
<circle cx="603.70" cy="226.43" r="3.7"/>
<circle cx="604.00" cy="226.58" r="3.7"/>
<circle cx="604.30" cy="226.83" r="3.7"/>
<circle cx="604.60" cy="226.79" r="3.7"/>
<circle cx="604.90" cy="226.72" r="3.7"/>
<circle cx="605.50" cy="225.42" r="3.7"/>
<circle cx="606.10" cy="223.49" r="3.7"/>
<circle cx="606.70" cy="220.84" r="3.7"/>
<circle cx="607.30" cy="217.41" r="3.7"/>
<circle cx="607.90" cy="213.16" r="3.7"/>
<circle cx="608.50" cy="208.23" r="3.7"/>
<circle cx="609.10" cy="202.56" r="3.7"/>
<circle cx="609.70" cy="196.28" r="3.7"/>
<circle cx="610.30" cy="189.52" r="3.7"/>
<circle cx="610.90" cy="182.27" r="3.7"/>
<circle cx="611.50" cy="174.90" r="3.7"/>
<circle cx="612.10" cy="167.53" r="3.7"/>
<circle cx="612.70" cy="160.35" r="3.7"/>
<circle cx="613.30" cy="153.72" r="3.7"/>
<circle cx="613.90" cy="147.86" r="3.7"/>
<circle cx="614.50" cy="143.13" r="3.7"/>
<circle cx="615.10" cy="139.93" r="3.7"/>
<circle cx="615.70" cy="138.17" r="3.7"/>
<circle cx="616.00" cy="138.05" r="3.7"/>
<circle cx="616.30" cy="138.17" r="3.7"/>
<circle cx="616.90" cy="140.05" r="3.7"/>
<circle cx="617.50" cy="143.46" r="3.7"/>
<circle cx="618.10" cy="148.41" r="3.7"/>
<circle cx="618.70" cy="154.48" r="3.7"/>
<circle cx="619.30" cy="161.45" r="3.7"/>
<circle cx="619.90" cy="168.92" r="3.7"/>
<circle cx="620.50" cy="176.77" r="3.7"/>
<circle cx="621.10" cy="184.66" r="3.7"/>
<circle cx="621.70" cy="192.40" r="3.7"/>
<circle cx="622.30" cy="199.89" r="3.7"/>
<circle cx="622.90" cy="206.88" r="3.7"/>
<circle cx="623.50" cy="213.42" r="3.7"/>
<circle cx="624.10" cy="219.31" r="3.7"/>
<circle cx="624.70" cy="224.60" r="3.7"/>
<circle cx="625.30" cy="229.21" r="3.7"/>
<circle cx="625.90" cy="233.21" r="3.7"/>
<circle cx="626.50" cy="236.42" r="3.7"/>
<circle cx="627.10" cy="239.15" r="3.7"/>
<circle cx="627.70" cy="241.27" r="3.7"/>
<circle cx="628.30" cy="242.88" r="3.7"/>
<circle cx="628.60" cy="243.39" r="3.7"/>
<circle cx="628.90" cy="243.61" r="3.7"/>
<circle cx="629.20" cy="243.54" r="3.7"/>
<circle cx="629.50" cy="243.57" r="3.7"/>
<circle cx="630.10" cy="242.48" r="3.7"/>
<circle cx="630.70" cy="240.91" r="3.7"/>
<circle cx="631.30" cy="238.63" r="3.7"/>
<circle cx="631.90" cy="235.91" r="3.7"/>
<circle cx="632.50" cy="233.12" r="3.7"/>
<circle cx="633.10" cy="230.13" r="3.7"/>
<circle cx="633.70" cy="227.10" r="3.7"/>
<circle cx="634.30" cy="224.19" r="3.7"/>
<circle cx="634.90" cy="221.46" r="3.7"/>
<circle cx="635.50" cy="219.48" r="3.7"/>
<circle cx="636.10" cy="218.22" r="3.7"/>
<circle cx="636.40" cy="218.13" r="3.7"/>
<circle cx="636.70" cy="217.95" r="3.7"/>
<circle cx="637.30" cy="218.79" r="3.7"/>
<circle cx="637.90" cy="220.64" r="3.7"/>
<circle cx="638.50" cy="223.04" r="3.7"/>
<circle cx="639.10" cy="226.12" r="3.7"/>
<circle cx="639.70" cy="229.37" r="3.7"/>
<circle cx="640.30" cy="232.66" r="3.7"/>
<circle cx="640.90" cy="235.84" r="3.7"/>
<circle cx="641.50" cy="238.79" r="3.7"/>
<circle cx="642.10" cy="241.55" r="3.7"/>
<circle cx="642.70" cy="243.87" r="3.7"/>
<circle cx="643.30" cy="246.01" r="3.7"/>
<circle cx="643.90" cy="248.04" r="3.7"/>
<circle cx="644.50" cy="249.81" r="3.7"/>
<circle cx="645.10" cy="251.30" r="3.7"/>
<circle cx="645.70" cy="252.83" r="3.7"/>
<circle cx="646.30" cy="253.92" r="3.7"/>
<circle cx="646.90" cy="254.94" r="3.7"/>
<circle cx="647.20" cy="255.20" r="3.7"/>
<circle cx="647.50" cy="255.62" r="3.7"/>
<circle cx="647.80" cy="255.94" r="3.7"/>
<circle cx="648.10" cy="256.33" r="3.7"/>
<circle cx="648.40" cy="256.47" r="3.7"/>
<circle cx="648.70" cy="256.77" r="3.7"/>
<circle cx="649.00" cy="256.96" r="3.7"/>
<circle cx="649.30" cy="256.74" r="3.7"/>
<circle cx="649.60" cy="257.07" r="3.7"/>
<circle cx="649.90" cy="257.32" r="3.7"/>
<circle cx="650.20" cy="257.10" r="3.7"/>
<circle cx="650.50" cy="256.92" r="3.7"/>
<circle cx="650.80" cy="256.96" r="3.7"/>
<circle cx="651.10" cy="257.22" r="3.7"/>
<circle cx="651.40" cy="256.95" r="3.7"/>
<circle cx="651.70" cy="256.81" r="3.7"/>
<circle cx="652.00" cy="257.01" r="3.7"/>
<circle cx="652.30" cy="257.06" r="3.7"/>
<circle cx="652.60" cy="256.96" r="3.7"/>
<circle cx="652.90" cy="256.46" r="3.7"/>
<circle cx="653.20" cy="256.10" r="3.7"/>
<circle cx="653.50" cy="256.09" r="3.7"/>
<circle cx="653.80" cy="255.72" r="3.7"/>
<circle cx="654.10" cy="255.58" r="3.7"/>
<circle cx="654.70" cy="254.75" r="3.7"/>
<circle cx="655.00" cy="254.36" r="3.7"/>
<circle cx="655.30" cy="254.01" r="3.7"/>
<circle cx="655.60" cy="253.66" r="3.7"/>
<circle cx="655.90" cy="253.47" r="3.7"/>
<circle cx="656.20" cy="252.92" r="3.7"/>
<circle cx="656.50" cy="252.76" r="3.7"/>
<circle cx="657.10" cy="251.78" r="3.7"/>
<circle cx="657.70" cy="250.81" r="3.7"/>
<circle cx="658.30" cy="249.69" r="3.7"/>
<circle cx="658.90" cy="248.28" r="3.7"/>
<circle cx="659.50" cy="247.08" r="3.7"/>
<circle cx="660.10" cy="245.75" r="3.7"/>
<circle cx="660.70" cy="244.05" r="3.7"/>
<circle cx="661.30" cy="242.31" r="3.7"/>
<circle cx="661.90" cy="240.62" r="3.7"/>
<circle cx="662.50" cy="238.68" r="3.7"/>
<circle cx="663.10" cy="236.64" r="3.7"/>
<circle cx="663.70" cy="234.35" r="3.7"/>
<circle cx="664.30" cy="232.00" r="3.7"/>
<circle cx="664.90" cy="229.37" r="3.7"/>
<circle cx="665.50" cy="226.84" r="3.7"/>
<circle cx="666.10" cy="224.11" r="3.7"/>
<circle cx="666.70" cy="221.25" r="3.7"/>
<circle cx="667.30" cy="218.24" r="3.7"/>
<circle cx="667.90" cy="215.38" r="3.7"/>
<circle cx="668.50" cy="212.35" r="3.7"/>
<circle cx="669.10" cy="209.65" r="3.7"/>
<circle cx="669.70" cy="206.95" r="3.7"/>
<circle cx="670.30" cy="204.40" r="3.7"/>
<circle cx="670.90" cy="202.10" r="3.7"/>
<circle cx="671.50" cy="200.05" r="3.7"/>
<circle cx="672.10" cy="198.60" r="3.7"/>
<circle cx="672.70" cy="197.71" r="3.7"/>
<circle cx="673.00" cy="197.69" r="3.7"/>
<circle cx="673.30" cy="197.66" r="3.7"/>
<circle cx="673.60" cy="197.99" r="3.7"/>
<circle cx="673.90" cy="198.15" r="3.7"/>
<circle cx="674.50" cy="199.63" r="3.7"/>
<circle cx="675.10" cy="201.77" r="3.7"/>
<circle cx="675.70" cy="204.42" r="3.7"/>
<circle cx="676.30" cy="207.20" r="3.7"/>
<circle cx="676.90" cy="209.86" r="3.7"/>
<circle cx="677.50" cy="211.83" r="3.7"/>
<circle cx="678.10" cy="213.28" r="3.7"/>
<circle cx="678.70" cy="214.19" r="3.7"/>
<circle cx="679.00" cy="214.10" r="3.7"/>
<circle cx="679.30" cy="214.40" r="3.7"/>
<circle cx="679.60" cy="214.25" r="3.7"/>
<circle cx="679.90" cy="214.06" r="3.7"/>
<circle cx="680.50" cy="212.72" r="3.7"/>
<circle cx="681.10" cy="210.59" r="3.7"/>
<circle cx="681.70" cy="207.22" r="3.7"/>
<circle cx="682.30" cy="202.97" r="3.7"/>
<circle cx="682.90" cy="198.77" r="3.7"/>
<circle cx="683.50" cy="195.03" r="3.7"/>
<circle cx="684.10" cy="191.24" r="3.7"/>
<circle cx="684.70" cy="187.11" r="3.7"/>
<circle cx="685.30" cy="181.64" r="3.7"/>
<circle cx="685.90" cy="173.80" r="3.7"/>
<circle cx="686.50" cy="163.32" r="3.7"/>
<circle cx="687.10" cy="151.72" r="3.7"/>
<circle cx="687.70" cy="139.33" r="3.7"/>
<circle cx="688.30" cy="126.39" r="3.7"/>
<circle cx="688.90" cy="113.22" r="3.7"/>
<circle cx="689.50" cy="100.20" r="3.7"/>
<circle cx="690.10" cy="87.86" r="3.7"/>
<circle cx="690.70" cy="76.52" r="3.7"/>
<circle cx="691.30" cy="66.64" r="3.7"/>
<circle cx="691.90" cy="58.57" r="3.7"/>
<circle cx="692.50" cy="52.66" r="3.7"/>
<circle cx="693.10" cy="49.08" r="3.7"/>
<circle cx="693.70" cy="48.04" r="3.7"/>
<circle cx="694.30" cy="49.72" r="3.7"/>
<circle cx="694.90" cy="53.89" r="3.7"/>
<circle cx="695.50" cy="60.42" r="3.7"/>
<circle cx="696.10" cy="69.18" r="3.7"/>
<circle cx="696.70" cy="79.73" r="3.7"/>
<circle cx="697.30" cy="91.71" r="3.7"/>
<circle cx="697.90" cy="104.72" r="3.7"/>
<circle cx="698.50" cy="118.31" r="3.7"/>
<circle cx="699.10" cy="132.02" r="3.7"/>
<circle cx="699.70" cy="145.47" r="3.7"/>
<circle cx="700.30" cy="158.37" r="3.7"/>
<circle cx="700.90" cy="170.44" r="3.7"/>
<circle cx="701.50" cy="181.49" r="3.7"/>
<circle cx="702.10" cy="191.38" r="3.7"/>
<circle cx="702.70" cy="200.12" r="3.7"/>
<circle cx="703.30" cy="207.68" r="3.7"/>
<circle cx="703.90" cy="214.16" r="3.7"/>
<circle cx="704.50" cy="219.60" r="3.7"/>
<circle cx="705.10" cy="224.22" r="3.7"/>
<circle cx="705.70" cy="228.19" r="3.7"/>
<circle cx="706.30" cy="231.69" r="3.7"/>
<circle cx="706.90" cy="234.85" r="3.7"/>
<circle cx="707.50" cy="237.86" r="3.7"/>
<circle cx="708.10" cy="240.73" r="3.7"/>
<circle cx="708.70" cy="243.51" r="3.7"/>
<circle cx="709.30" cy="246.29" r="3.7"/>
<circle cx="709.90" cy="248.94" r="3.7"/>
<circle cx="710.50" cy="251.64" r="3.7"/>
<circle cx="711.10" cy="254.22" r="3.7"/>
<circle cx="711.70" cy="256.86" r="3.7"/>
<circle cx="712.30" cy="259.25" r="3.7"/>
<circle cx="712.90" cy="261.26" r="3.7"/>
<circle cx="713.50" cy="263.06" r="3.7"/>
<circle cx="714.10" cy="264.99" r="3.7"/>
<circle cx="714.70" cy="266.77" r="3.7"/>
<circle cx="715.30" cy="268.44" r="3.7"/>
<circle cx="715.90" cy="270.01" r="3.7"/>
<circle cx="716.50" cy="271.51" r="3.7"/>
<circle cx="717.10" cy="272.85" r="3.7"/>
<circle cx="717.70" cy="273.94" r="3.7"/>
<circle cx="718.30" cy="275.22" r="3.7"/>
<circle cx="718.90" cy="276.36" r="3.7"/>
<circle cx="719.50" cy="277.26" r="3.7"/>
<circle cx="720.10" cy="278.37" r="3.7"/>
<circle cx="720.70" cy="279.34" r="3.7"/>
<circle cx="721.30" cy="280.24" r="3.7"/>
<circle cx="721.60" cy="280.68" r="3.7"/>
<circle cx="721.90" cy="280.88" r="3.7"/>
<circle cx="722.50" cy="281.76" r="3.7"/>
<circle cx="723.10" cy="282.63" r="3.7"/>
<circle cx="723.40" cy="283.11" r="3.7"/>
<circle cx="723.70" cy="283.35" r="3.7"/>
<circle cx="724.00" cy="283.66" r="3.7"/>
<circle cx="724.30" cy="284.07" r="3.7"/>
<circle cx="724.60" cy="284.54" r="3.7"/>
<circle cx="724.90" cy="284.45" r="3.7"/>
<circle cx="725.50" cy="285.28" r="3.7"/>
<circle cx="725.80" cy="285.54" r="3.7"/>
<circle cx="726.10" cy="285.68" r="3.7"/>
<circle cx="726.40" cy="285.71" r="3.7"/>
<circle cx="726.70" cy="285.94" r="3.7"/>
<circle cx="727.00" cy="286.44" r="3.7"/>
<circle cx="727.30" cy="286.69" r="3.7"/>
<circle cx="727.60" cy="286.73" r="3.7"/>
<circle cx="727.90" cy="287.03" r="3.7"/>
<circle cx="728.20" cy="287.42" r="3.7"/>
<circle cx="728.50" cy="287.59" r="3.7"/>
<circle cx="728.80" cy="287.62" r="3.7"/>
<circle cx="729.10" cy="287.95" r="3.7"/>
<circle cx="729.40" cy="288.33" r="3.7"/>
<circle cx="729.70" cy="288.53" r="3.7"/>
<circle cx="730.00" cy="288.59" r="3.7"/>
<circle cx="730.30" cy="288.79" r="3.7"/>
<circle cx="730.60" cy="289.07" r="3.7"/>
<circle cx="730.90" cy="289.08" r="3.7"/>
<circle cx="731.20" cy="289.42" r="3.7"/>
<circle cx="731.50" cy="289.59" r="3.7"/>
<circle cx="731.80" cy="289.74" r="3.7"/>
<circle cx="732.10" cy="289.79" r="3.7"/>
<circle cx="732.40" cy="289.88" r="3.7"/>
<circle cx="732.70" cy="289.96" r="3.7"/>
<circle cx="733.00" cy="290.34" r="3.7"/>
<circle cx="733.30" cy="290.46" r="3.7"/>
<circle cx="733.60" cy="290.22" r="3.7"/>
<circle cx="733.90" cy="290.41" r="3.7"/>
<circle cx="734.20" cy="290.54" r="3.7"/>
<circle cx="734.50" cy="290.58" r="3.7"/>
<circle cx="734.80" cy="290.74" r="3.7"/>
<circle cx="735.10" cy="290.80" r="3.7"/>
<circle cx="735.40" cy="290.91" r="3.7"/>
<circle cx="735.70" cy="290.88" r="3.7"/>
<circle cx="736.00" cy="291.17" r="3.7"/>
<circle cx="736.30" cy="291.25" r="3.7"/>
<circle cx="736.60" cy="292.01" r="3.7"/>
<circle cx="736.90" cy="291.87" r="3.7"/>
<circle cx="737.20" cy="291.78" r="3.7"/>
<circle cx="737.50" cy="291.66" r="3.7"/>
<circle cx="737.80" cy="291.95" r="3.7"/>
<circle cx="738.10" cy="292.04" r="3.7"/>
<circle cx="738.40" cy="292.08" r="3.7"/>
<circle cx="738.70" cy="292.09" r="3.7"/>
<circle cx="739.00" cy="292.43" r="3.7"/>
<circle cx="739.30" cy="292.39" r="3.7"/>
<circle cx="739.60" cy="292.42" r="3.7"/>
<circle cx="739.90" cy="292.95" r="3.7"/>
<circle cx="740.20" cy="293.20" r="3.7"/>
<circle cx="740.50" cy="293.05" r="3.7"/>
<circle cx="740.80" cy="292.94" r="3.7"/>
<circle cx="741.10" cy="292.99" r="3.7"/>
<circle cx="741.40" cy="292.86" r="3.7"/>
<circle cx="741.70" cy="293.27" r="3.7"/>
<circle cx="742.00" cy="293.16" r="3.7"/>
<circle cx="742.30" cy="293.31" r="3.7"/>
<circle cx="742.60" cy="293.38" r="3.7"/>
<circle cx="742.90" cy="293.49" r="3.7"/>
<circle cx="743.20" cy="293.59" r="3.7"/>
<circle cx="743.50" cy="293.64" r="3.7"/>
<circle cx="743.80" cy="293.73" r="3.7"/>
<circle cx="744.10" cy="293.83" r="3.7"/>
<circle cx="744.40" cy="294.12" r="3.7"/>
<circle cx="744.70" cy="294.22" r="3.7"/>
<circle cx="745.00" cy="294.34" r="3.7"/>
<circle cx="745.30" cy="294.47" r="3.7"/>
<circle cx="745.60" cy="294.56" r="3.7"/>
<circle cx="745.90" cy="294.66" r="3.7"/>
<circle cx="746.20" cy="294.46" r="3.7"/>
<circle cx="746.50" cy="294.78" r="3.7"/>
<circle cx="746.80" cy="294.86" r="3.7"/>
<circle cx="747.10" cy="294.83" r="3.7"/>
<circle cx="747.40" cy="295.17" r="3.7"/>
<circle cx="747.70" cy="295.27" r="3.7"/>
<circle cx="748.00" cy="295.27" r="3.7"/>
<circle cx="748.30" cy="295.37" r="3.7"/>
<circle cx="748.60" cy="295.40" r="3.7"/>
<circle cx="748.90" cy="295.89" r="3.7"/>
<circle cx="749.20" cy="295.81" r="3.7"/>
<circle cx="749.50" cy="296.05" r="3.7"/>
<circle cx="749.80" cy="296.37" r="3.7"/>
<circle cx="750.10" cy="296.29" r="3.7"/>
<circle cx="750.40" cy="296.22" r="3.7"/>
<circle cx="750.70" cy="296.30" r="3.7"/>
<circle cx="751.00" cy="296.20" r="3.7"/>
<circle cx="751.30" cy="296.25" r="3.7"/>
<circle cx="751.60" cy="296.48" r="3.7"/>
<circle cx="751.90" cy="296.90" r="3.7"/>
<circle cx="752.20" cy="297.09" r="3.7"/>
<circle cx="752.50" cy="297.12" r="3.7"/>
<circle cx="752.80" cy="296.89" r="3.7"/>
<circle cx="753.10" cy="296.80" r="3.7"/>
<circle cx="753.40" cy="296.91" r="3.7"/>
<circle cx="753.70" cy="297.22" r="3.7"/>
<circle cx="754.00" cy="297.20" r="3.7"/>
<circle cx="754.30" cy="297.54" r="3.7"/>
<circle cx="754.60" cy="297.39" r="3.7"/>
<circle cx="754.90" cy="297.25" r="3.7"/>
<circle cx="755.20" cy="297.70" r="3.7"/>
<circle cx="755.50" cy="297.90" r="3.7"/>
<circle cx="755.80" cy="297.70" r="3.7"/>
<circle cx="756.10" cy="297.53" r="3.7"/>
<circle cx="756.40" cy="297.52" r="3.7"/>
<circle cx="756.70" cy="297.31" r="3.7"/>
<circle cx="757.00" cy="297.30" r="3.7"/>
<circle cx="757.30" cy="297.25" r="3.7"/>
<circle cx="757.60" cy="296.96" r="3.7"/>
<circle cx="757.90" cy="296.63" r="3.7"/>
<circle cx="758.20" cy="296.38" r="3.7"/>
<circle cx="758.50" cy="296.08" r="3.7"/>
<circle cx="758.80" cy="295.93" r="3.7"/>
<circle cx="759.10" cy="295.77" r="3.7"/>
<circle cx="759.70" cy="294.93" r="3.7"/>
<circle cx="760.00" cy="295.20" r="3.7"/>
<circle cx="760.30" cy="295.23" r="3.7"/>
<circle cx="760.60" cy="295.02" r="3.7"/>
<circle cx="760.90" cy="294.69" r="3.7"/>
<circle cx="761.20" cy="294.72" r="3.7"/>
<circle cx="761.50" cy="294.88" r="3.7"/>
<circle cx="761.80" cy="294.81" r="3.7"/>
<circle cx="762.10" cy="294.71" r="3.7"/>
<circle cx="762.40" cy="294.80" r="3.7"/>
<circle cx="762.70" cy="294.91" r="3.7"/>
<circle cx="763.00" cy="295.07" r="3.7"/>
<circle cx="763.30" cy="295.13" r="3.7"/>
<circle cx="763.60" cy="295.12" r="3.7"/>
<circle cx="763.90" cy="295.08" r="3.7"/>
<circle cx="764.20" cy="295.37" r="3.7"/>
<circle cx="764.50" cy="295.56" r="3.7"/>
<circle cx="764.80" cy="295.42" r="3.7"/>
<circle cx="765.10" cy="295.63" r="3.7"/>
<circle cx="765.40" cy="295.78" r="3.7"/>
<circle cx="765.70" cy="295.83" r="3.7"/>
<circle cx="766.00" cy="296.16" r="3.7"/>
<circle cx="766.30" cy="296.17" r="3.7"/>
<circle cx="766.60" cy="296.08" r="3.7"/>
<circle cx="766.90" cy="296.30" r="3.7"/>
<circle cx="767.20" cy="296.63" r="3.7"/>
<circle cx="767.50" cy="296.58" r="3.7"/>
<circle cx="767.80" cy="296.88" r="3.7"/>
<circle cx="768.10" cy="297.11" r="3.7"/>
<circle cx="768.40" cy="297.12" r="3.7"/>
<circle cx="768.70" cy="297.17" r="3.7"/>
<circle cx="769.00" cy="297.17" r="3.7"/>
<circle cx="769.30" cy="297.59" r="3.7"/>
<circle cx="769.60" cy="297.72" r="3.7"/>
<circle cx="769.90" cy="297.60" r="3.7"/>
<circle cx="770.20" cy="297.38" r="3.7"/>
<circle cx="770.50" cy="297.40" r="3.7"/>
<circle cx="770.80" cy="297.29" r="3.7"/>
<circle cx="771.10" cy="297.30" r="3.7"/>
<circle cx="771.40" cy="297.52" r="3.7"/>
<circle cx="771.70" cy="297.60" r="3.7"/>
</g></g>
<rect x="440.2" y="7.2" width="332.09999999999997" height="314.5" fill="none" stroke="#000" stroke-width="1.45"/>
<line x1="440.20" y1="321.70" x2="440.20" y2="328.70" stroke="#000" stroke-width="1.25" />
<line x1="440.20" y1="7.20" x2="440.20" y2="-0.30" stroke="#000" stroke-width="1.25" />
<text x="440.20" y="341.60" font-size="10.5" style="font-family:'Liberation Sans',sans-serif;font-weight:bold" text-anchor="middle" stroke="#000" stroke-width="0.2">0</text>
<line x1="463.92" y1="321.70" x2="463.92" y2="325.70" stroke="#000" stroke-width="1.25" />
<line x1="463.92" y1="7.20" x2="463.92" y2="3.40" stroke="#000" stroke-width="1.25" />
<line x1="487.64" y1="321.70" x2="487.64" y2="328.70" stroke="#000" stroke-width="1.25" />
<line x1="487.64" y1="7.20" x2="487.64" y2="-0.30" stroke="#000" stroke-width="1.25" />
<text x="487.64" y="341.60" font-size="10.5" style="font-family:'Liberation Sans',sans-serif;font-weight:bold" text-anchor="middle" stroke="#000" stroke-width="0.2">200</text>
<line x1="511.36" y1="321.70" x2="511.36" y2="325.70" stroke="#000" stroke-width="1.25" />
<line x1="511.36" y1="7.20" x2="511.36" y2="3.40" stroke="#000" stroke-width="1.25" />
<line x1="535.09" y1="321.70" x2="535.09" y2="328.70" stroke="#000" stroke-width="1.25" />
<line x1="535.09" y1="7.20" x2="535.09" y2="-0.30" stroke="#000" stroke-width="1.25" />
<text x="535.09" y="341.60" font-size="10.5" style="font-family:'Liberation Sans',sans-serif;font-weight:bold" text-anchor="middle" stroke="#000" stroke-width="0.2">400</text>
<line x1="558.81" y1="321.70" x2="558.81" y2="325.70" stroke="#000" stroke-width="1.25" />
<line x1="558.81" y1="7.20" x2="558.81" y2="3.40" stroke="#000" stroke-width="1.25" />
<line x1="582.53" y1="321.70" x2="582.53" y2="328.70" stroke="#000" stroke-width="1.25" />
<line x1="582.53" y1="7.20" x2="582.53" y2="-0.30" stroke="#000" stroke-width="1.25" />
<text x="582.53" y="341.60" font-size="10.5" style="font-family:'Liberation Sans',sans-serif;font-weight:bold" text-anchor="middle" stroke="#000" stroke-width="0.2">600</text>
<line x1="606.25" y1="321.70" x2="606.25" y2="325.70" stroke="#000" stroke-width="1.25" />
<line x1="606.25" y1="7.20" x2="606.25" y2="3.40" stroke="#000" stroke-width="1.25" />
<line x1="629.97" y1="321.70" x2="629.97" y2="328.70" stroke="#000" stroke-width="1.25" />
<line x1="629.97" y1="7.20" x2="629.97" y2="-0.30" stroke="#000" stroke-width="1.25" />
<text x="629.97" y="341.60" font-size="10.5" style="font-family:'Liberation Sans',sans-serif;font-weight:bold" text-anchor="middle" stroke="#000" stroke-width="0.2">800</text>
<line x1="653.69" y1="321.70" x2="653.69" y2="325.70" stroke="#000" stroke-width="1.25" />
<line x1="653.69" y1="7.20" x2="653.69" y2="3.40" stroke="#000" stroke-width="1.25" />
<line x1="677.41" y1="321.70" x2="677.41" y2="328.70" stroke="#000" stroke-width="1.25" />
<line x1="677.41" y1="7.20" x2="677.41" y2="-0.30" stroke="#000" stroke-width="1.25" />
<text x="677.41" y="341.60" font-size="10.5" style="font-family:'Liberation Sans',sans-serif;font-weight:bold" text-anchor="middle" stroke="#000" stroke-width="0.2">1000</text>
<line x1="701.14" y1="321.70" x2="701.14" y2="325.70" stroke="#000" stroke-width="1.25" />
<line x1="701.14" y1="7.20" x2="701.14" y2="3.40" stroke="#000" stroke-width="1.25" />
<line x1="724.86" y1="321.70" x2="724.86" y2="328.70" stroke="#000" stroke-width="1.25" />
<line x1="724.86" y1="7.20" x2="724.86" y2="-0.30" stroke="#000" stroke-width="1.25" />
<text x="724.86" y="341.60" font-size="10.5" style="font-family:'Liberation Sans',sans-serif;font-weight:bold" text-anchor="middle" stroke="#000" stroke-width="0.2">1200</text>
<line x1="748.58" y1="321.70" x2="748.58" y2="325.70" stroke="#000" stroke-width="1.25" />
<line x1="748.58" y1="7.20" x2="748.58" y2="3.40" stroke="#000" stroke-width="1.25" />
<line x1="772.30" y1="321.70" x2="772.30" y2="328.70" stroke="#000" stroke-width="1.25" />
<line x1="772.30" y1="7.20" x2="772.30" y2="-0.30" stroke="#000" stroke-width="1.25" />
<text x="772.30" y="341.60" font-size="10.5" style="font-family:'Liberation Sans',sans-serif;font-weight:bold" text-anchor="middle" stroke="#000" stroke-width="0.2">1400</text>
<line x1="440.20" y1="321.65" x2="436.60" y2="321.65" stroke="#000" stroke-width="1.25" />
<line x1="772.30" y1="321.65" x2="775.70" y2="321.65" stroke="#000" stroke-width="1.25" />
<line x1="440.20" y1="295.50" x2="433.40" y2="295.50" stroke="#000" stroke-width="1.25" />
<line x1="772.30" y1="295.50" x2="779.00" y2="295.50" stroke="#000" stroke-width="1.25" />
<text x="428.60" y="298.35" font-size="10.5" style="font-family:'Liberation Sans',sans-serif;font-weight:bold" text-anchor="end" stroke="#000" stroke-width="0.2">520</text>
<line x1="440.20" y1="269.35" x2="436.60" y2="269.35" stroke="#000" stroke-width="1.25" />
<line x1="772.30" y1="269.35" x2="775.70" y2="269.35" stroke="#000" stroke-width="1.25" />
<line x1="440.20" y1="243.20" x2="433.40" y2="243.20" stroke="#000" stroke-width="1.25" />
<line x1="772.30" y1="243.20" x2="779.00" y2="243.20" stroke="#000" stroke-width="1.25" />
<text x="428.60" y="246.05" font-size="10.5" style="font-family:'Liberation Sans',sans-serif;font-weight:bold" text-anchor="end" stroke="#000" stroke-width="0.2">530</text>
<line x1="440.20" y1="217.05" x2="436.60" y2="217.05" stroke="#000" stroke-width="1.25" />
<line x1="772.30" y1="217.05" x2="775.70" y2="217.05" stroke="#000" stroke-width="1.25" />
<line x1="440.20" y1="190.90" x2="433.40" y2="190.90" stroke="#000" stroke-width="1.25" />
<line x1="772.30" y1="190.90" x2="779.00" y2="190.90" stroke="#000" stroke-width="1.25" />
<text x="428.60" y="193.75" font-size="10.5" style="font-family:'Liberation Sans',sans-serif;font-weight:bold" text-anchor="end" stroke="#000" stroke-width="0.2">540</text>
<line x1="440.20" y1="164.75" x2="436.60" y2="164.75" stroke="#000" stroke-width="1.25" />
<line x1="772.30" y1="164.75" x2="775.70" y2="164.75" stroke="#000" stroke-width="1.25" />
<line x1="440.20" y1="138.60" x2="433.40" y2="138.60" stroke="#000" stroke-width="1.25" />
<line x1="772.30" y1="138.60" x2="779.00" y2="138.60" stroke="#000" stroke-width="1.25" />
<text x="428.60" y="141.45" font-size="10.5" style="font-family:'Liberation Sans',sans-serif;font-weight:bold" text-anchor="end" stroke="#000" stroke-width="0.2">550</text>
<line x1="440.20" y1="112.45" x2="436.60" y2="112.45" stroke="#000" stroke-width="1.25" />
<line x1="772.30" y1="112.45" x2="775.70" y2="112.45" stroke="#000" stroke-width="1.25" />
<line x1="440.20" y1="86.30" x2="433.40" y2="86.30" stroke="#000" stroke-width="1.25" />
<line x1="772.30" y1="86.30" x2="779.00" y2="86.30" stroke="#000" stroke-width="1.25" />
<text x="428.60" y="89.15" font-size="10.5" style="font-family:'Liberation Sans',sans-serif;font-weight:bold" text-anchor="end" stroke="#000" stroke-width="0.2">560</text>
<line x1="440.20" y1="60.15" x2="436.60" y2="60.15" stroke="#000" stroke-width="1.25" />
<line x1="772.30" y1="60.15" x2="775.70" y2="60.15" stroke="#000" stroke-width="1.25" />
<line x1="440.20" y1="34.00" x2="433.40" y2="34.00" stroke="#000" stroke-width="1.25" />
<line x1="772.30" y1="34.00" x2="779.00" y2="34.00" stroke="#000" stroke-width="1.25" />
<text x="428.60" y="36.85" font-size="10.5" style="font-family:'Liberation Sans',sans-serif;font-weight:bold" text-anchor="end" stroke="#000" stroke-width="0.2">570</text>
<line x1="440.20" y1="7.85" x2="436.60" y2="7.85" stroke="#000" stroke-width="1.25" />
<line x1="772.30" y1="7.85" x2="775.70" y2="7.85" stroke="#000" stroke-width="1.25" />
<text y="359.9" font-size="10.4" style="font-family:'DejaVu Sans','Liberation Sans',sans-serif;font-weight:bold"><tspan x="567.6" textLength="96.4" lengthAdjust="spacingAndGlyphs">Raman shift (cm</tspan><tspan x="664.8" y="355.0" font-size="7" textLength="6.8" lengthAdjust="spacingAndGlyphs">-1</tspan><tspan x="672.9" y="359.9">)</tspan></text>
<text transform="translate(406.3,191.3) rotate(-90)" font-size="10.4" style="font-family:'DejaVu Sans','Liberation Sans',sans-serif;font-weight:bold" textLength="52.7" lengthAdjust="spacingAndGlyphs">Intensity</text>
<rect x="449.0" y="10.5" width="218.4" height="18.8" fill="#fff" stroke="#222" stroke-width="0.7"/>
<line x1="463.30" y1="19.90" x2="470.90" y2="19.90" stroke="#222" stroke-width="0.7" />
<line x1="481.00" y1="19.90" x2="488.30" y2="19.90" stroke="#222" stroke-width="0.7" />
<circle cx="475.9" cy="19.9" r="4.0" fill="#FF8000" stroke="#000" stroke-width="0.65"/>
<text y="23.5" font-size="10.4" style="font-family:'DejaVu Sans','Liberation Sans',sans-serif;font-weight:bold"><tspan x="492.4" textLength="124.3" lengthAdjust="spacingAndGlyphs">Raman spectra HT-Er</tspan><tspan x="617.4" y="27.5" style="font-family:'Liberation Serif',serif;font-weight:bold" font-size="7.5">2</tspan><tspan x="622.0" y="23.5">O</tspan><tspan x="631.0" y="27.5" style="font-family:'Liberation Serif',serif;font-weight:bold" font-size="7.5">3</tspan><tspan x="639.4" y="23.5" textLength="21.8" lengthAdjust="spacingAndGlyphs">NPs</tspan></text>
<text x="756.00" y="26.40" font-size="15.2" style="font-family:'Liberation Sans',sans-serif;font-weight:bold" text-anchor="start" >B</text>
<text transform="translate(501.7,204.0) rotate(-90)" font-size="7.1" style="font-family:'Liberation Sans',sans-serif;font-weight:bold" stroke="#000" stroke-width="0.2" textLength="11.6" lengthAdjust="spacingAndGlyphs">261</text>
<text transform="translate(573.7,150.7) rotate(-90)" font-size="7.1" style="font-family:'Liberation Sans',sans-serif;font-weight:bold" stroke="#000" stroke-width="0.2" textLength="11.3" lengthAdjust="spacingAndGlyphs">562</text>
<text transform="translate(596.0,174.4) rotate(-90)" font-size="7.1" style="font-family:'Liberation Sans',sans-serif;font-weight:bold" stroke="#000" stroke-width="0.2" textLength="11.3" lengthAdjust="spacingAndGlyphs">647</text>
<text transform="translate(617.4,131.0) rotate(-90)" font-size="7.1" style="font-family:'Liberation Sans',sans-serif;font-weight:bold" stroke="#000" stroke-width="0.2" textLength="11.2" lengthAdjust="spacingAndGlyphs">741</text>
<text transform="translate(639.0,211.2) rotate(-90)" font-size="7.1" style="font-family:'Liberation Sans',sans-serif;font-weight:bold" stroke="#000" stroke-width="0.2" textLength="11.3" lengthAdjust="spacingAndGlyphs">832</text>
<text transform="translate(671.6,189.5) rotate(-90)" font-size="7.1" style="font-family:'Liberation Sans',sans-serif;font-weight:bold" stroke="#000" stroke-width="0.2" textLength="11.6" lengthAdjust="spacingAndGlyphs">978</text>
<text transform="translate(694.4,42.2) rotate(-90)" font-size="7.1" style="font-family:'Liberation Sans',sans-serif;font-weight:bold" stroke="#000" stroke-width="0.2" textLength="14.8" lengthAdjust="spacingAndGlyphs">1071</text>
</svg>
</body></html>
